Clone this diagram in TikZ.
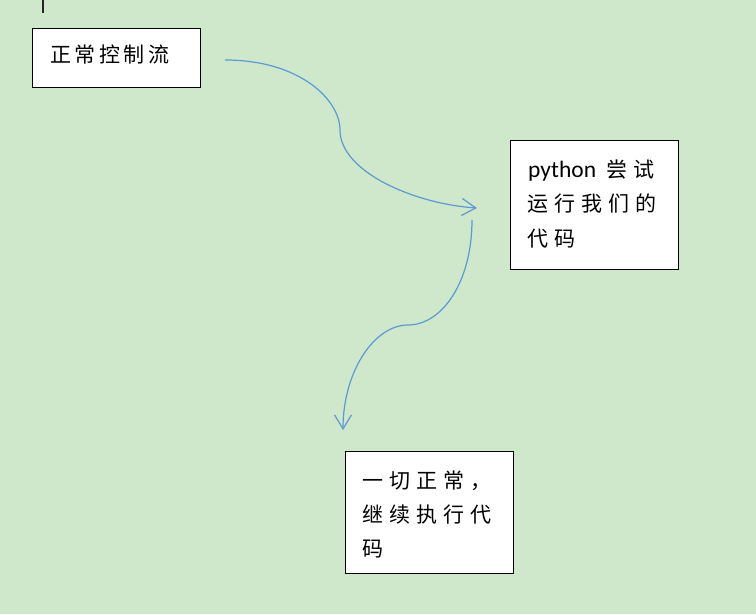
\documentclass[tikz,border=0pt]{standalone}
\usepackage{fontspec}
\usetikzlibrary{arrows.meta}
\newfontfamily\cjka[LetterSpace=17]{Noto Sans CJK SC}
\newfontfamily\cjkb[LetterSpace=29]{Noto Sans CJK SC}
\newfontfamily\latinsans{Carlito}
\definecolor{bg}{HTML}{CFE7CA}
\definecolor{flow}{HTML}{5B9BD5}
\tikzset{
  box/.style={draw=black, line width=1.1pt, fill=white, minimum width=168pt, inner sep=0pt, anchor=north west},
  lbl/.style={anchor=base west, inner sep=0pt, text=black},
  cjktext/.style={font=\fontsize{21pt}{23pt}\cjkb},
  flowline/.style={draw=flow, line width=1.2pt, -{Straight Barb[length=14pt,width=17pt,line width=1.2pt]}}
}
\begin{document}
\begin{tikzpicture}[x=1pt,y=-1pt]
\fill[bg] (0,0) rectangle (756,614);
\useasboundingbox (0,0) rectangle (756,614);
% cursor mark
\draw[line width=1.6pt, color=black!85] (43,0) -- (43,13);
% boxes
\node[box, minimum height=59pt] (b1) at (32,28) {};
\node[box, minimum height=129pt] (b2) at (510,140) {};
\node[box, minimum height=122pt] (b3) at (345,451) {};
% texts
\node[lbl, font=\fontsize{21pt}{23pt}\cjka] (t1) at (50,62) {正常控制流};
\node[lbl] (t2a) at (528,177) {{\fontsize{23.5pt}{25pt}\latinsans python}\hspace{10pt}{\fontsize{21pt}{23pt}\cjkb 尝试}};
\node[lbl, cjktext] (t2b) at (527,211) {运行我们的};
\node[lbl, cjktext] (t2c) at (527,246) {代码};
\node[lbl, cjktext] (t3a) at (362,488) {一切正常，};
\node[lbl, cjktext] (t3b) at (362,522) {继续执行代};
\node[lbl, cjktext] (t3c) at (362,556) {码};
% connectors
\coordinate (s1) at (225,60);
\coordinate (m1) at (340,130);
\coordinate (e1) at (477,208);
\coordinate (s2) at (472,220);
\coordinate (m2) at (408,325);
\coordinate (e2) at (343,430);
\draw[flowline] (s1) .. controls (300,60) and (340,100) .. (m1) .. controls (340,172) and (415,204) .. (e1);
\draw[flowline] (s2) .. controls (472,282) and (442,325) .. (m2) .. controls (374,325) and (343,372) .. (e2);
\end{tikzpicture}
\end{document}
